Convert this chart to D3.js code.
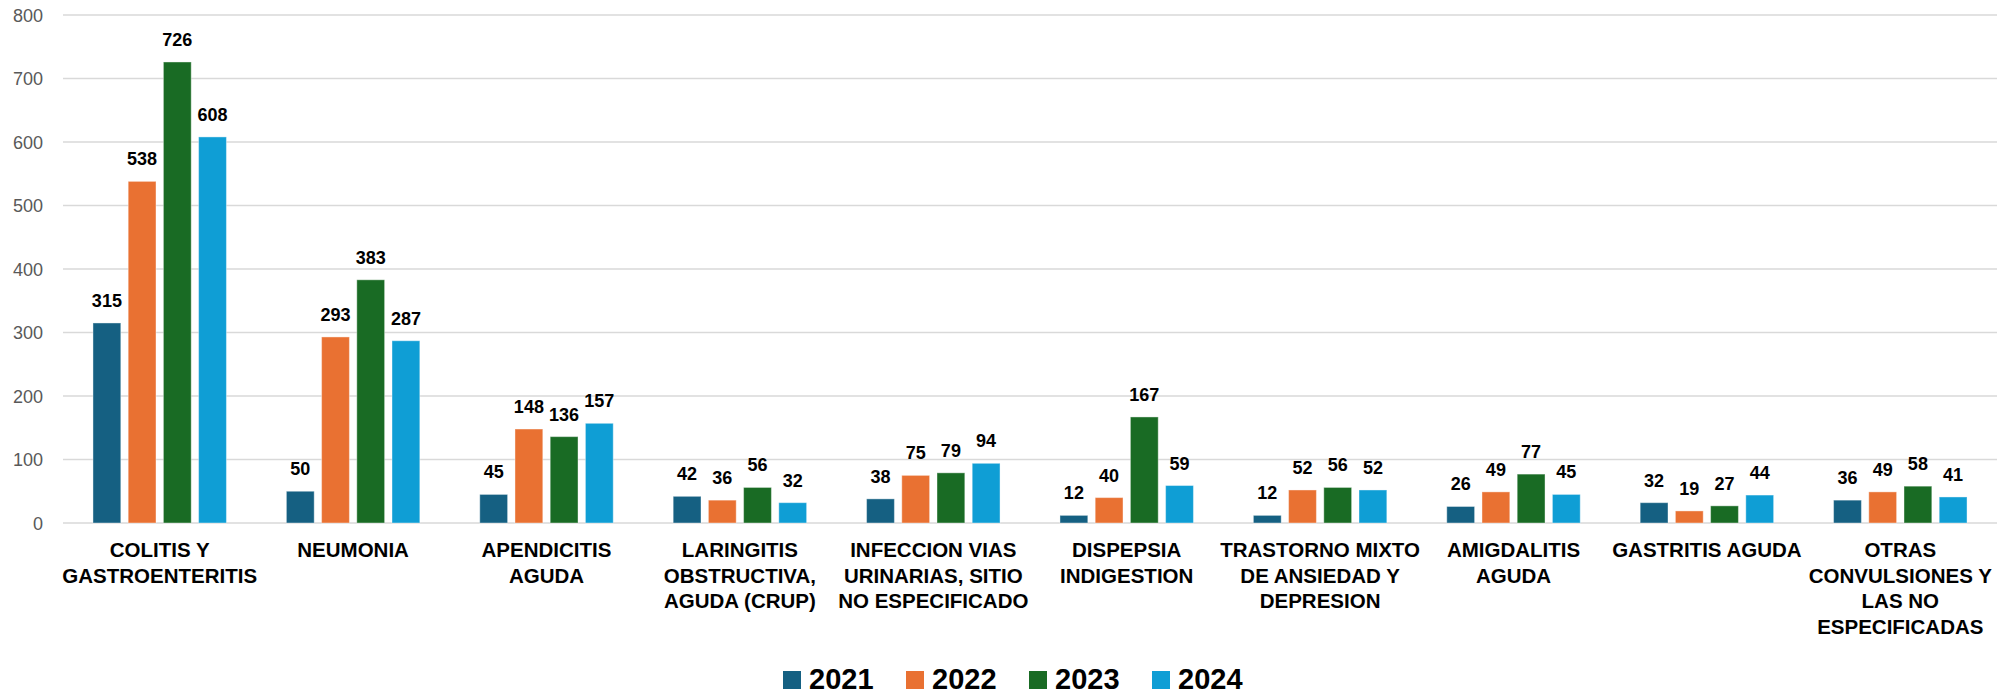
<!DOCTYPE html>
<html>
<head>
<meta charset="utf-8">
<script src="https://cdn.jsdelivr.net/npm/d3@7"></script>
<style>
  html, body { margin: 0; padding: 0; background: #fff; }
  svg { display: block; }
</style>
</head>
<body>
<div id="viz"></div>
<script>
const WIDTH = 2004;
const HEIGHT = 694;
const MARGIN = { top: 15, right: 7, bottom: 171, left: 63 };

// categories (line breaks as in the original labels)
const categories = [
  'COLITIS Y\nGASTROENTERITIS',
  'NEUMONIA',
  'APENDICITIS\nAGUDA',
  'LARINGITIS\nOBSTRUCTIVA,\nAGUDA (CRUP)',
  'INFECCION VIAS\nURINARIAS, SITIO\nNO ESPECIFICADO',
  'DISPEPSIA\nINDIGESTION',
  'TRASTORNO MIXTO\nDE ANSIEDAD Y\nDEPRESION',
  'AMIGDALITIS\nAGUDA',
  'GASTRITIS AGUDA',
  'OTRAS\nCONVULSIONES Y\nLAS NO\nESPECIFICADAS'
];
const years = ['2021', '2022', '2023', '2024'];
const values2021 = [315, 50, 45, 42, 38, 12, 12, 26, 32, 36];
const values2022 = [538, 293, 148, 36, 75, 40, 52, 49, 19, 49];
const values2023 = [726, 383, 136, 56, 79, 167, 56, 77, 27, 58];
const values2024 = [608, 287, 157, 32, 94, 59, 52, 45, 44, 41];
const yTicks = [0, 100, 200, 300, 400, 500, 600, 700, 800];
const colors = ['#156082', '#E97132', '#196B24', '#0F9ED5'];

const series = [values2021, values2022, values2023, values2024];
const rows = categories.map((c, i) => ({
  category: c,
  values: years.map((y, j) => ({ year: y, value: series[j][i] }))
}));

const innerW = WIDTH - MARGIN.left - MARGIN.right;
const innerH = HEIGHT - MARGIN.top - MARGIN.bottom;

const svg = d3.select('#viz').append('svg')
  .attr('width', WIDTH)
  .attr('height', HEIGHT);

const g = svg.append('g')
  .attr('transform', `translate(${MARGIN.left},${MARGIN.top})`);

const x0 = d3.scaleBand()
  .domain(categories)
  .range([0, innerW])
  .paddingInner(0.31)
  .paddingOuter(0.155);

const x1 = d3.scaleBand()
  .domain(years)
  .range([0, x0.bandwidth()])
  .paddingInner(0.21);

const y = d3.scaleLinear()
  .domain([0, 800])
  .range([innerH, 0]);

const color = d3.scaleOrdinal().domain(years).range(colors);

// gridlines
g.append('g')
  .selectAll('line')
  .data(yTicks)
  .join('line')
  .attr('x1', 0)
  .attr('x2', innerW)
  .attr('y1', d => y(d))
  .attr('y2', d => y(d))
  .attr('stroke', '#d9d9d9')
  .attr('stroke-width', 1.5);

// y axis labels
const yAxis = d3.axisLeft(y).tickValues(yTicks).tickSize(0).tickPadding(20);
g.append('g')
  .call(yAxis)
  .call(a => a.select('.domain').remove())
  .selectAll('text')
  .attr('font-family', 'Liberation Sans, Arial, sans-serif')
  .attr('font-size', 18)
  .attr('fill', '#595959')
  .attr('dy', '0.36em');

// bars
const groups = g.append('g')
  .selectAll('g')
  .data(rows)
  .join('g')
  .attr('transform', d => `translate(${x0(d.category)},0)`);

groups.selectAll('rect')
  .data(d => d.values)
  .join('rect')
  .attr('x', d => x1(d.year))
  .attr('y', d => y(d.value))
  .attr('width', x1.bandwidth())
  .attr('height', d => innerH - y(d.value))
  .attr('fill', d => color(d.year))
  .attr('stroke', '#ffffff')
  .attr('stroke-opacity', 0.4)
  .attr('stroke-width', 1);

groups.selectAll('text.val')
  .data(d => d.values)
  .join('text')
  .attr('class', 'val')
  .attr('x', d => x1(d.year) + x1.bandwidth() / 2)
  .attr('y', d => y(d.value) - 16)
  .attr('text-anchor', 'middle')
  .attr('font-family', 'Liberation Sans, Arial, sans-serif')
  .attr('font-weight', 'bold')
  .attr('font-size', 18)
  .attr('fill', '#000')
  .text(d => d.value);

// category labels
const xAxis = g.append('g')
  .attr('transform', `translate(0,${innerH})`);
xAxis.selectAll('text')
  .data(categories)
  .join('text')
  .attr('x', d => x0(d) + x0.bandwidth() / 2)
  .attr('y', 34)
  .attr('text-anchor', 'middle')
  .attr('font-family', 'Liberation Sans Narrow, Arial Narrow, sans-serif')
  .attr('font-weight', 'bold')
  .attr('font-size', 20.5)
  .attr('fill', '#000')
  .each(function (d) {
    const t = d3.select(this);
    d.split('\n').forEach((line, i) => {
      t.append('tspan')
        .attr('x', x0(d) + x0.bandwidth() / 2)
        .attr('dy', i === 0 ? 0 : 25.5)
        .text(line);
    });
  });

// legend
const legend = svg.append('g')
  .attr('transform', 'translate(783,671)');
const item = legend.selectAll('g')
  .data(years)
  .join('g')
  .attr('transform', (d, i) => `translate(${i * 123},0)`);
item.append('rect')
  .attr('width', 18)
  .attr('height', 18)
  .attr('fill', d => color(d));
item.append('text')
  .attr('x', 26)
  .attr('y', 18)
  .attr('font-family', 'Liberation Sans, Arial, sans-serif')
  .attr('font-weight', 'bold')
  .attr('font-size', 29)
  .attr('fill', '#000')
  .text(d => d);
</script>
</body>
</html>
